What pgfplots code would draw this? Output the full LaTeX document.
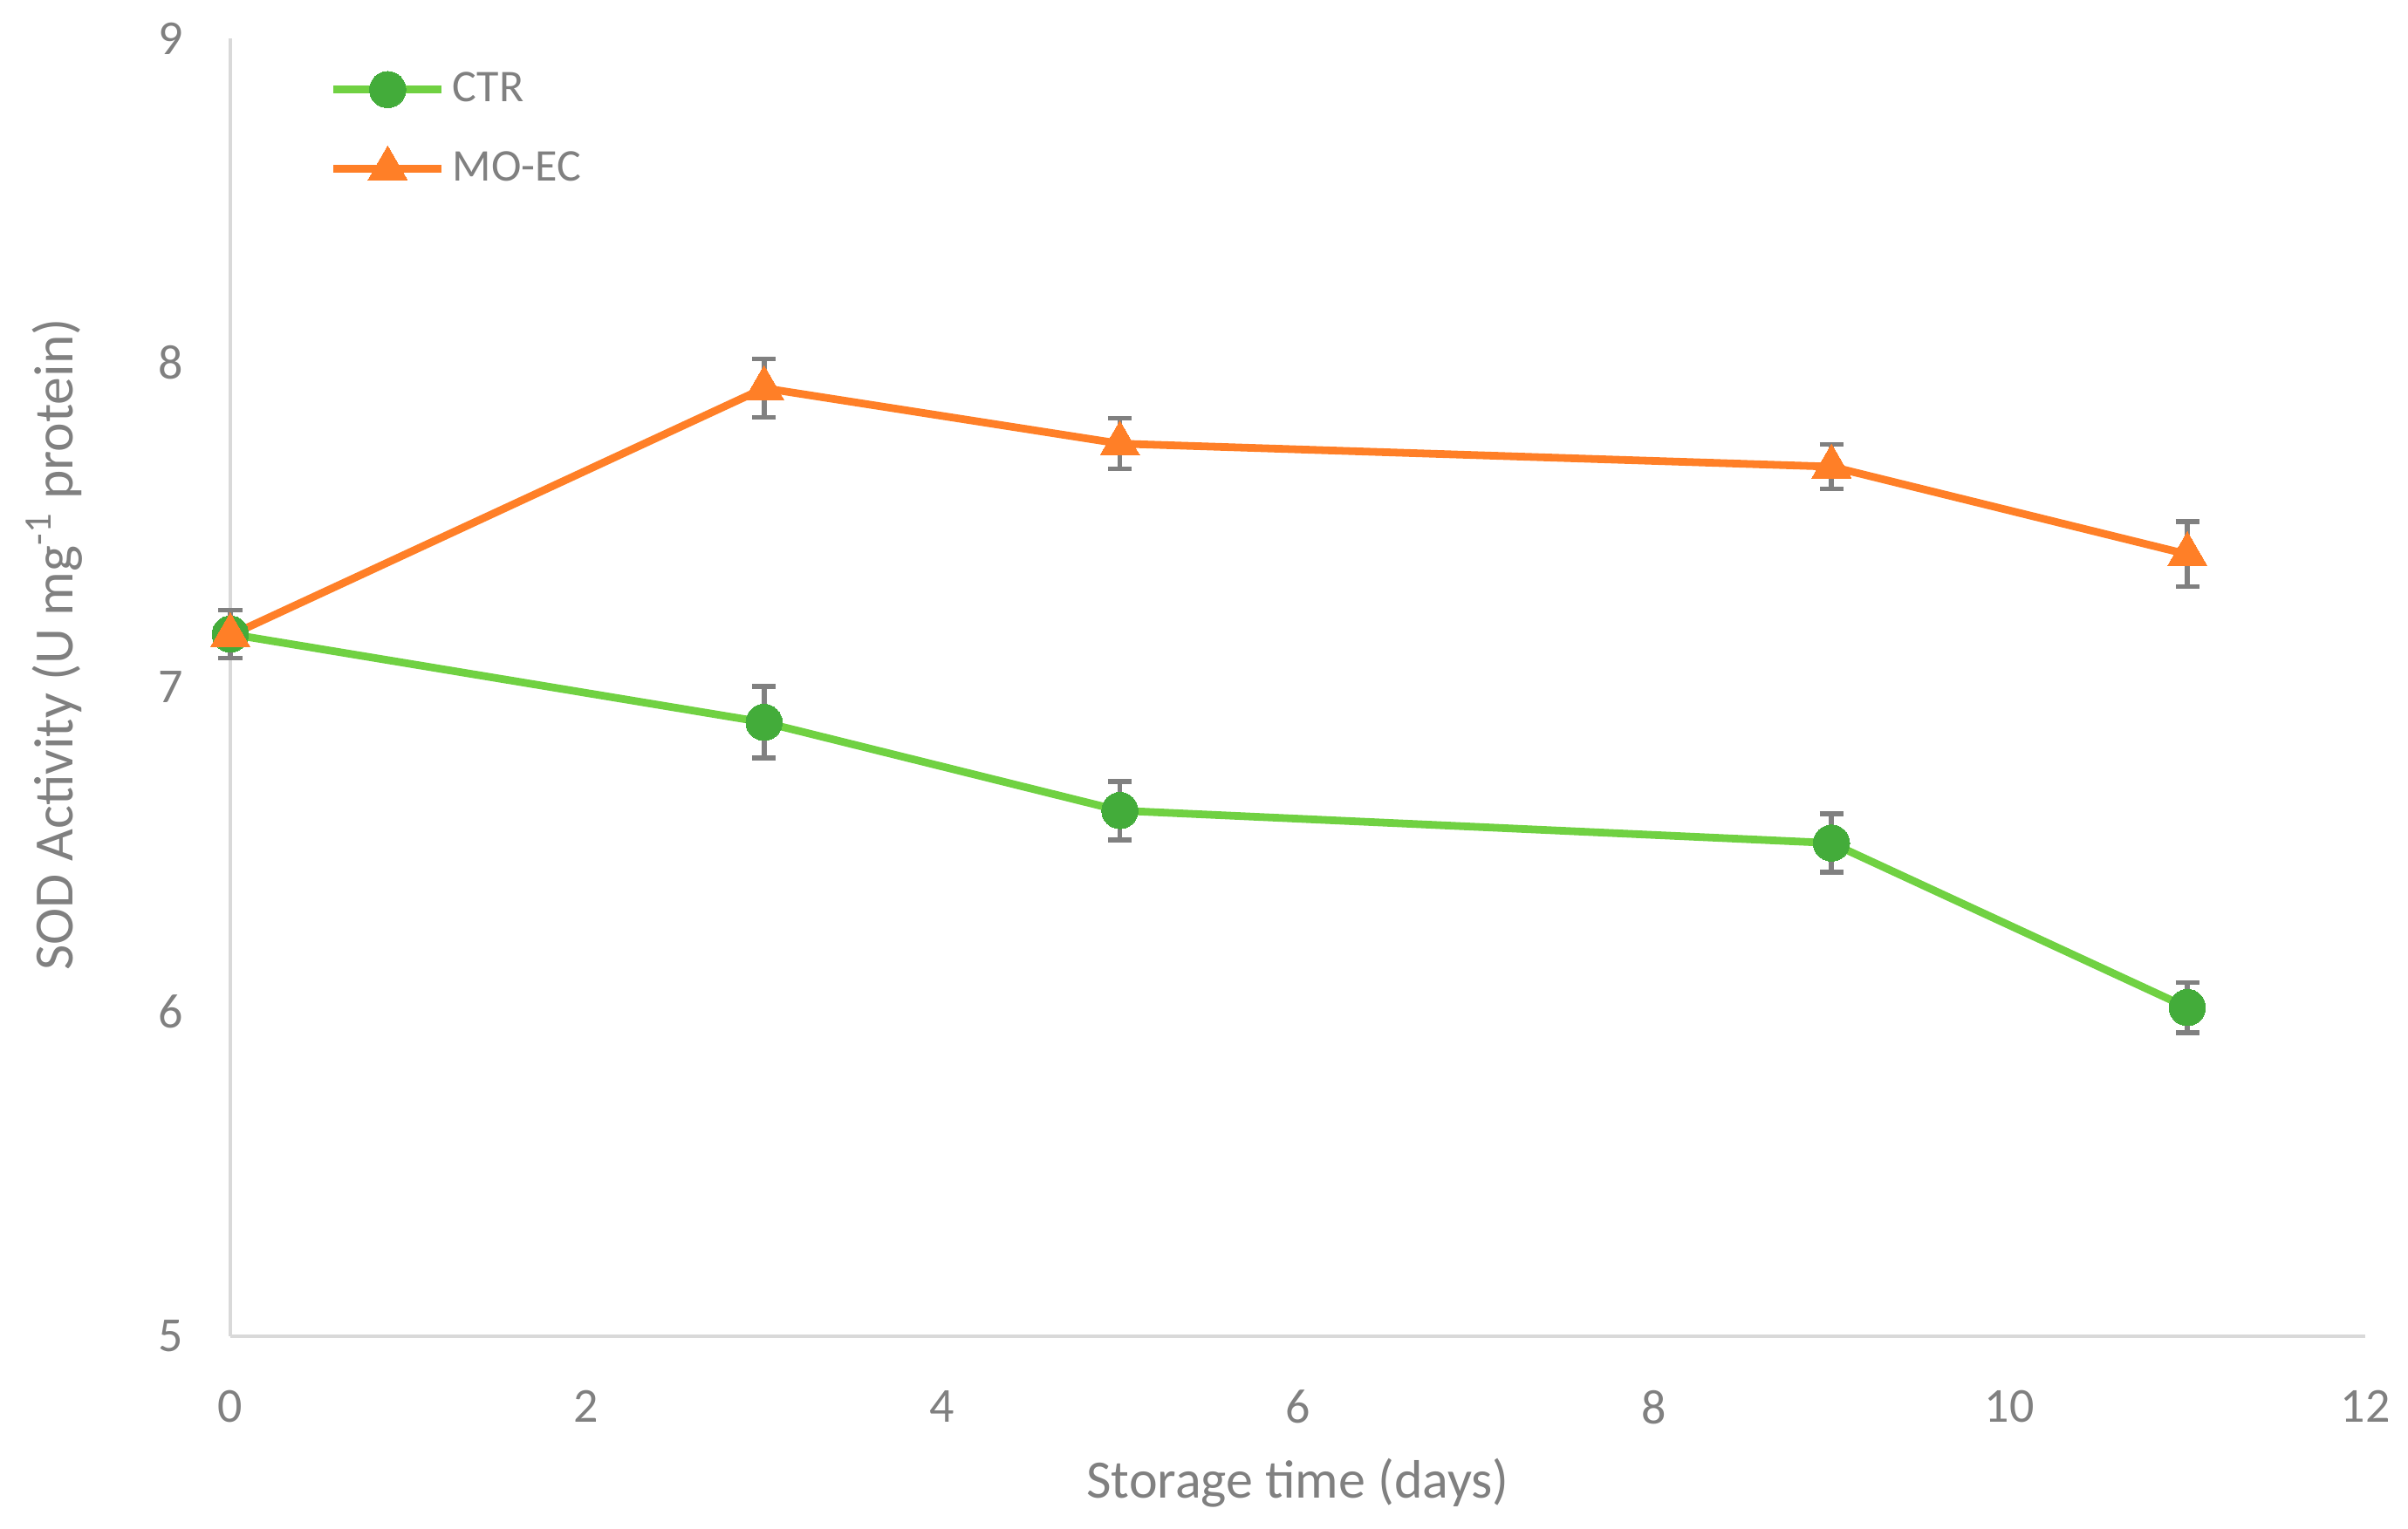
\documentclass[border=0pt]{standalone}
\usepackage{fontspec}
\setmainfont{Carlito}
\usepackage{pgfplots}
\pgfplotsset{compat=1.18}
\definecolor{txtgray}{RGB}{128,128,128}
\definecolor{axgray}{RGB}{217,217,217}
\definecolor{ctrline}{RGB}{112,209,66}
\definecolor{ctrmark}{RGB}{67,172,58}
\definecolor{moline}{RGB}{255,127,39}
\begin{document}
\begin{tikzpicture}
\begin{axis}[
  name=ax,
  scale only axis,
  width=611.75pt, height=372pt,
  xmin=0, xmax=12, ymin=5, ymax=9,
  xtick={0,2,...,12}, ytick={5,6,7,8,9},
  axis x line*=bottom, axis y line*=left,
  axis line style={axgray, line width=0.9pt, -},
  major tick length=0pt,
  tick label style={txtgray, font=\fontsize{14}{16}\selectfont},
  /pgf/number format/assume math mode=true,
  xticklabel style={yshift=-12pt},
  yticklabel style={xshift=-10pt},
  xlabel={Storage time (days)},
  ylabel={SOD Activity (U mg\textsuperscript{-1} protein)},
  label style={txtgray, font=\fontsize{15.5}{18}\selectfont},
  xlabel style={at={(rel axis cs:0.5,0)}, anchor=center, yshift=-42pt},
  ylabel style={at={(rel axis cs:0,0.533)}, anchor=center, yshift=50.5pt, font=\fontsize{15.9}{18}\selectfont},
  legend style={draw=none, fill=none, at={(rel axis cs:0,1)}, anchor=north west,
    xshift=28.3pt, yshift=-7.5pt, font=\fontsize{13}{15}\selectfont, text=txtgray,
    row sep=8.7pt, inner sep=0pt},
  legend cell align=left,
  legend image code/.code={
    \draw[#1, mark=none] (0pt,0pt) -- (31pt,0pt);
    \draw[#1, only marks] plot coordinates {(15.5pt,0pt)};
  },
  clip=false,
]
\addplot[ctrline, line width=2.2pt, mark=*, mark size=5.2pt,
  mark options={fill=ctrmark, draw=ctrmark, line width=0pt},
  error bars/.cd, y dir=both, y explicit,
  error bar style={txtgray, line width=1.4pt},
  error mark options={rotate=90, mark size=3.4pt, line width=1.4pt, txtgray}]
  coordinates {
  (0,7.164) +- (0,0.074)
  (3,6.892) +- (0,0.11)
  (5,6.62) +- (0,0.09)
  (9,6.52) +- (0,0.09)
  (11,6.013) +- (0,0.077)
};
\addlegendentry{CTR}
\addplot[moline, line width=2.2pt, mark=triangle*, mark size=6.5pt,
  mark options={fill=moline, draw=moline, line width=0pt},
  error bars/.cd, y dir=both, y explicit,
  error bar style={txtgray, line width=1.4pt},
  error mark options={rotate=90, mark size=3.4pt, line width=1.4pt, txtgray}]
  coordinates {
  (0,7.16) +- (0,0.0)
  (3,7.922) +- (0,0.09)
  (5,7.751) +- (0,0.078)
  (9,7.68) +- (0,0.069)
  (11,7.41) +- (0,0.1)
};
\addlegendentry{MO-EC}
\end{axis}
\pgfresetboundingbox
\path ([shift={(-66pt,-55.25pt)}]ax.south west) rectangle ([shift={(12.25pt,11pt)}]ax.north east);
\end{tikzpicture}
\end{document}
